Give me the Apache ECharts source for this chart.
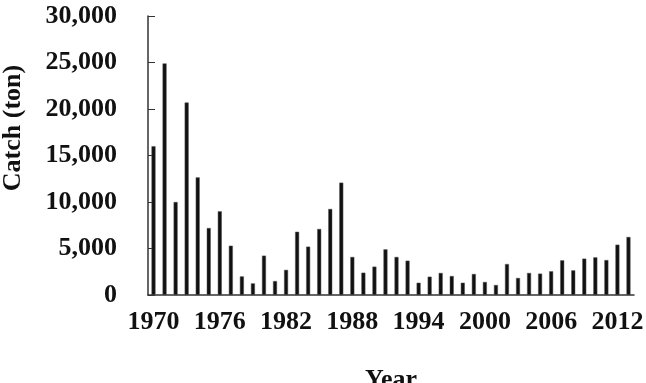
<!DOCTYPE html>
<html><head><meta charset="utf-8">
<script src="https://cdn.jsdelivr.net/npm/echarts@6/dist/echarts.min.js"></script>
<style>html,body{margin:0;padding:0;background:#fff}#c{width:646px;height:383px}</style>
</head><body><div id="c"></div>
<script>
var years = [];
for (var y = 1970; y <= 2013; y++) years.push(String(y));
var catchTon = [16000, 24900, 10000, 20700, 12650, 7200, 9000, 5300, 2000, 1250,
  4230, 1500, 2700, 6800, 5200, 7100, 9250, 12080, 4090, 2400,
  3050, 4910, 4090, 3690, 1320, 1970, 2370, 2040, 1320, 2260,
  1400, 1075, 3330, 1830, 2370, 2300, 2550, 3730, 2650, 3910,
  4050, 3760, 5410, 6240];
var yTicks = [0, 5000, 10000, 15000, 20000, 25000, 30000];

var font = 'Liberation Serif';
var chart = echarts.init(document.getElementById('c'));
chart.setOption({
  animation: false,
  grid: {left: 148, right: 12, top: 16, bottom: 88, containLabel: false, outerBoundsMode: 'none'},
  xAxis: {
    type: 'category', data: years, boundaryGap: true,
    axisLine: {lineStyle: {color: '#333', width: 1.5}},
    axisTick: {inside: true, length: 5, interval: 0, lineStyle: {color: '#555'}},
    axisLabel: {interval: 5, margin: 14, fontFamily: font, fontWeight: 'bold', fontSize: 26, color: '#111'},
    name: 'Year', nameLocation: 'middle', nameGap: 72,
    nameTextStyle: {fontFamily: font, fontWeight: 'bold', fontSize: 26, color: '#111'}
  },
  yAxis: {
    type: 'value', min: yTicks[0], max: yTicks[yTicks.length - 1], interval: 5000,
    splitLine: {show: false},
    axisLine: {show: true, lineStyle: {color: '#333', width: 1.5}},
    axisTick: {show: true, inside: true, length: 7, lineStyle: {color: '#333'}},
    axisLabel: {margin: 31, fontFamily: font, fontWeight: 'bold', fontSize: 26, color: '#111',
      formatter: function (v) { return v.toLocaleString('en-US'); }}
  },
  graphic: [{
    type: 'text', x: 13, y: 128, rotation: Math.PI / 2,
    style: {text: 'Catch (ton)', font: 'bold 26px "Liberation Serif"', fill: '#111',
      align: 'center', verticalAlign: 'middle'}
  }],
  series: [{
    type: 'bar', data: catchTon, barWidth: 4,
    itemStyle: {color: '#111', borderColor: '#555', borderWidth: 0.5}
  }]
});
</script></body></html>
